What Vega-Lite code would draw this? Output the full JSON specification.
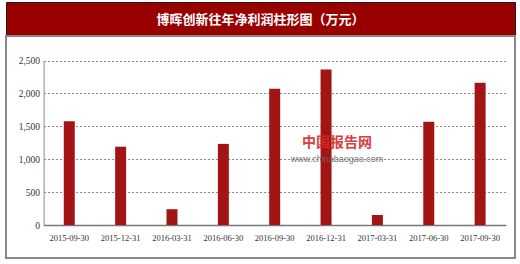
{
  "$schema": "https://vega.github.io/schema/vega-lite/v6.json",
  "padding": {"left": 5, "top": 1, "right": 6, "bottom": 7},
  "background": "white",
  "spacing": 0,
  "bounds": "flush",
  "config": {"view": {"stroke": null}},
  "vconcat": [
    {
      "width": 509,
      "height": 34,
      "view": {"fill": "#990000", "stroke": "#1a1a1a", "strokeWidth": 1},
      "data": {"values": [{"title": "博晖创新往年净利润柱形图（万元）"}]},
      "mark": {"type": "text", "color": "white", "font": "Noto Sans CJK SC", "fontSize": 13, "fontWeight": "bold", "baseline": "middle", "align": "center", "dy": 1},
      "encoding": {"text": {"field": "title"}}
    },
    {
      "width": 509,
      "height": 222,
      "view": {"stroke": "#888888", "strokeWidth": 2},
      "layer": [
        {
          "data": {"values": [
            {"date": "2015-09-30", "profit": 1575},
            {"date": "2015-12-31", "profit": 1190},
            {"date": "2016-03-31", "profit": 240},
            {"date": "2016-06-30", "profit": 1233},
            {"date": "2016-09-30", "profit": 2070},
            {"date": "2016-12-31", "profit": 2365},
            {"date": "2017-03-31", "profit": 152},
            {"date": "2017-06-30", "profit": 1568},
            {"date": "2017-09-30", "profit": 2160}
          ]},
          "mark": {"type": "bar", "color": "#A31515"},
          "encoding": {
            "x": {"field": "date", "type": "nominal", "sort": null,
              "scale": {"type": "band", "range": [37.6, 499.8], "paddingInner": 0.786, "paddingOuter": 0.393},
              "axis": {"title": null, "offset": -33, "labelAngle": 0, "ticks": false, "domainColor": "#777777", "domainWidth": 1.5, "grid": false,
                "labelFont": "Liberation Serif", "labelFontSize": 8.5, "labelColor": "#333333", "labelPadding": 8}},
            "y": {"field": "profit", "type": "quantitative",
              "scale": {"domain": [0, 2500], "range": [189, 24.5], "nice": false, "zero": true},
              "axis": {"title": null, "offset": -37.6, "values": [0, 500, 1000, 1500, 2000, 2500], "format": ",.0f", "ticks": false,
                "domainColor": "#888888", "grid": true, "gridColor": "#888888", "gridDash": [2, 2], "gridWidth": 1.2,
                "labelFont": "Liberation Serif", "labelFontSize": 9.5, "labelColor": "#333333", "labelPadding": 4}}
          }
        },
        {
          "data": {"values": [{"brand": "中国报告网", "site": "www.chinabaogao.com"}]},
          "mark": {"type": "text", "color": "#D42A2A", "font": "Noto Sans CJK SC", "fontWeight": "bold", "fontSize": 14, "dx": 11, "opacity": 0.9},
          "encoding": {"x": {"datum": "2016-12-31"}, "y": {"datum": 1250}, "text": {"field": "brand"}}
        },
        {
          "data": {"values": [{"brand": "中国报告网", "site": "www.chinabaogao.com"}]},
          "mark": {"type": "text", "color": "#666666", "font": "Liberation Sans", "fontSize": 9, "dx": 11, "opacity": 0.9},
          "encoding": {"x": {"datum": "2016-12-31"}, "y": {"datum": 1000}, "text": {"field": "site"}}
        }
      ]
    }
  ]
}
